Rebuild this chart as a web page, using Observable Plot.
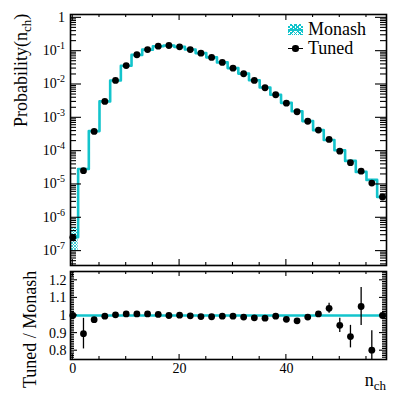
<!DOCTYPE html>
<html><head><meta charset="utf-8">
<script src="https://cdn.jsdelivr.net/npm/d3@7"></script>
<script src="https://cdn.jsdelivr.net/npm/@observablehq/plot@0.6"></script>
<style>
body{margin:0;background:#fff;}
#chart{position:relative;width:407px;height:398px;font-family:"Liberation Serif",serif;}
#chart svg{display:block;}
</style></head><body>
<svg width="0" height="0" style="position:absolute"><defs>
<pattern id="hatch" width="3" height="3" patternUnits="userSpaceOnUse">
<path d="M0,0L3,3M3,0L0,3" stroke="#13c4cc" stroke-width="0.8"/>
</pattern></defs></svg>
<div id="chart"></div>
<script>
// ---- data ----
const nch = [0,2,4,6,8,10,12,14,16,18,20,22,24,26,28,30,32,34,36,38,40,42,44,46,48,50,52,54,56,58];
const tuned = [2.6e-7,2.6e-5,3.9e-4,3.1e-3,1.32e-2,3.7e-2,7.8e-2,0.112,0.141,0.148,0.135,0.112,0.087,0.0647,0.0458,0.0309,0.021,0.0132,7.98e-3,4.92e-3,2.75e-3,1.52e-3,7.9e-4,4.3e-4,2.24e-4,1.0e-4,4.5e-5,2.5e-5,1.1e-5,4.2e-6];
const monash = [2.6e-7,2.9e-5,4.0e-4,3.11e-3,1.32e-2,3.67e-2,7.73e-2,0.111,0.140,0.148,0.135,0.112,0.0875,0.0652,0.046,0.031,0.0212,0.0134,8.1e-3,4.94e-3,2.81e-3,1.57e-3,7.97e-4,4.26e-4,2.15e-4,1.06e-4,5.1e-5,2.38e-5,1.37e-5,4.2e-6];
const ratio = [1.0,0.897,0.976,0.996,1.004,1.009,1.009,1.009,1.006,1.0,1.002,0.998,0.994,0.993,0.996,0.996,0.991,0.987,0.985,0.996,0.978,0.97,0.991,1.009,1.041,0.944,0.88,1.051,0.803,1.0];
const ratioErr = [0,0.087,0.012,0.004,0.003,0.003,0.003,0.003,0.003,0.003,0.003,0.003,0.003,0.003,0.003,0.003,0.003,0.003,0.004,0.005,0.006,0.008,0.01,0.013,0.028,0.04,0.064,0.108,0.11,0];
const bandBin = [0];
const bandLo = [1.0e-7];
const bandHi = [4.8e-7];
const binHalfWidth = 1;
const yMajor = [1,1e-1,1e-2,1e-3,1e-4,1e-5,1e-6,1e-7];
const yMinor = [];
for (let e=-8;e<=0;e++) for (let m=2;m<=9;m++){const v=m*Math.pow(10,e); if(v>3.7e-8&&v<1.26) yMinor.push(v);}
const xMajor = [0,20,40];
const xMinor = [5,10,15,25,30,35,45,50,55];
const rMajor = [0.8,0.9,1,1.1,1.2];
const rMinor = d3.range(76,125).map(v=>v/100).filter(v=>Math.round(v*100)%10!==0);
const legendLabels = ["Monash","Tuned"];

// ---- style ----
const W=407, ML=70, MR=21, TOPH=268, BOTH=130;
const xDomain=[-0.43,58.75];
const cyan="#13c4cc";
const FONT="Liberation Serif";

const steps = [];
nch.forEach((n,i)=>{steps.push({x:n-binHalfWidth,y:monash[i]});steps.push({x:n+binHalfWidth,y:monash[i]});});
const band = bandBin.map((n,i)=>({x1:n-binHalfWidth,x2:n+binHalfWidth,y1:bandLo[i],y2:bandHi[i]}));
const pts = nch.map((n,i)=>({n, t:tuned[i], r:ratio[i], lo:ratio[i]-ratioErr[i], hi:ratio[i]+ratioErr[i]}));

const topPlot = Plot.plot({
  width:W, height:TOPH, marginLeft:ML, marginRight:MR, marginTop:14, marginBottom:3,
  style:{fontFamily:FONT, fontSize:"14px", background:"white", color:"black", overflow:"visible"},
  x:{domain:xDomain, axis:null},
  y:{type:"log", domain:[3.7e-8,1.26], axis:null},
  marks:[
    Plot.rect(band,{x1:"x1",x2:"x2",y1:"y1",y2:"y2",fill:"url(#hatch)",clip:true}),
    Plot.line(steps,{x:"x",y:"y",stroke:cyan,strokeWidth:2.6,clip:true}),
    Plot.dot(pts,{x:"n",y:"t",r:3.4,fill:"black",stroke:null}),
    Plot.frame({stroke:"black",strokeWidth:1.6})
  ]
});

const botPlot = Plot.plot({
  width:W, height:BOTH, marginLeft:ML, marginRight:MR, marginTop:3, marginBottom:39,
  style:{fontFamily:FONT, fontSize:"14px", background:"white", color:"black", overflow:"visible"},
  x:{domain:xDomain, axis:null},
  y:{domain:[0.75,1.25], axis:null},
  marks:[
    Plot.ruleY([1],{stroke:cyan,strokeWidth:2.6}),
    Plot.ruleX(pts,{x:"n",y1:"lo",y2:"hi",stroke:"black",strokeWidth:1.3,clip:true}),
    Plot.dot(pts,{x:"n",y:"r",r:3.4,fill:"black",stroke:null}),
    Plot.axisY(rMajor,{anchor:"left",tickSize:0,tickPadding:4,label:null,fontSize:14,tickFormat:d=>String(d)}),
    Plot.axisX(xMajor,{anchor:"bottom",tickSize:0,tickPadding:4,label:null,fontSize:14,tickFormat:d=>String(d)}),
    Plot.frame({stroke:"black",strokeWidth:1.6})
  ]
});

const chart = document.getElementById("chart");
chart.appendChild(topPlot);
chart.appendChild(botPlot);

// inward ROOT-style ticks on all four sides, positioned with Plot's scales
function drawTicks(plot, yMaj, yMin, yMajLen, yMinLen, xMajLen, xMinLen){
  const sx = plot.scale("x"), sy = plot.scale("y");
  const L = sx.range[0], R = sx.range[1], B = sy.range[0], T = sy.range[1];
  const g = d3.select(plot).append("g");
  const seg=(x1,y1,x2,y2)=>g.append("line").attr("x1",x1).attr("y1",y1).attr("x2",x2).attr("y2",y2)
    .attr("stroke","black").attr("stroke-width",1.1);
  for (const [vals,len] of [[yMaj,yMajLen],[yMin,yMinLen]]) for (const v of vals){
    const y=sy.apply(v); seg(L,y,L+len,y); seg(R-len,y,R,y);}
  for (const [vals,len] of [[xMajor,xMajLen],[xMinor,xMinLen]]) for (const v of vals){
    const x=sx.apply(v); seg(x,B,x,B-len); seg(x,T,x,T+len);}
}
try { drawTicks(topPlot, yMajor, yMinor, 11, 6, 6, 3); } catch(e) {}
try { drawTicks(botPlot, rMajor, rMinor, 7, 4, 5, 3); } catch(e) {}

// ---- HTML text overlays (labels with super/subscripts, titles, legend) ----
function addDiv(html, css){
  const d=document.createElement("div");
  d.innerHTML=html;
  d.style.cssText="position:absolute;white-space:nowrap;font-family:'Liberation Serif',serif;color:black;"+css;
  chart.appendChild(d); return d;
}
const syTop = topPlot.scale("y");
yMajor.forEach(v=>{
  const y=syTop.apply(v);
  const e=Math.round(Math.log10(v));
  const html = e===0 ? "1" : `10<span style="font-size:10px;position:relative;top:-6px;">${e}</span>`;
  addDiv(html, `right:${W-65}px;top:${y-7.5}px;font-size:14px;line-height:16px;`);
});
const SUB = t => `<span style="font-size:13px;position:relative;top:4px;">${t}</span>`;
function vTitle(html, endY, baseX){
  const d = addDiv(html, "left:0px;top:0px;font-size:18px;line-height:18px;transform-origin:0 0;");
  const w = d.offsetWidth;
  d.style.transform = `translate(${baseX-15}px, ${endY + w}px) rotate(-90deg)`;
}
vTitle("Probability(n" + SUB("ch") + ")", 14, 27);
vTitle("Tuned / Monash", 271, 36);
addDiv("n" + SUB("ch"), `right:${MR}px;top:371px;font-size:18px;line-height:18px;`);

// legend
addDiv("", `left:288px;top:24px;width:15px;height:11px;background:repeating-linear-gradient(45deg, ${cyan} 0 1px, transparent 1px 3px),repeating-linear-gradient(-45deg, ${cyan} 0 1px, transparent 1px 3px);`);
addDiv("", `left:288px;top:28.5px;width:15px;height:2px;background:${cyan};`);
addDiv(legendLabels[0], "left:308px;top:20px;font-size:18px;line-height:18px;");
addDiv("", "left:288px;top:47.8px;width:15px;height:1.4px;background:black;");
addDiv("", "left:292.3px;top:45.3px;width:6.4px;height:6.4px;border-radius:50%;background:black;");
addDiv(legendLabels[1], "left:308px;top:39px;font-size:18px;line-height:18px;");
</script>
</body></html>
